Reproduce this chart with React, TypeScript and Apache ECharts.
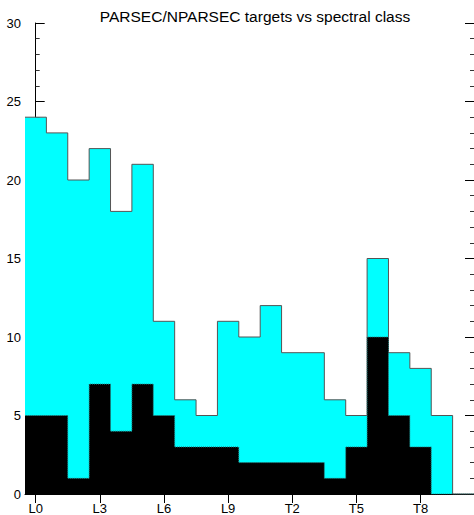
import React, { useEffect, useRef } from "react";
import * as echarts from "echarts";

const classes = [
  "L0", "L1", "L2", "L3", "L4", "L5", "L6", "L7", "L8", "L9",
  "T0", "T1", "T2", "T3", "T4", "T5", "T6", "T7", "T8", "T9", "",
];
// all targets (cyan)
const totalCounts = [24, 23, 20, 22, 18, 21, 11, 6, 5, 11, 10, 12, 9, 9, 6, 5, 15, 9, 8, 5, 0];
// PARSEC subset (black)
const parsecCounts = [5, 5, 1, 7, 4, 7, 5, 3, 3, 3, 2, 2, 2, 2, 1, 3, 10, 5, 3, 0, 0];
const yTicks = [0, 5, 10, 15, 20, 25, 30];

function stepEdges(vals: number[]): number[][] {
  const pts: number[][] = [];
  vals.forEach((v, i) => {
    pts.push([i - 0.5, v]);
    pts.push([i + 0.5, v]);
  });
  return pts;
}

export default function App() {
  const ref = useRef<HTMLDivElement>(null);
  useEffect(() => {
    if (!ref.current) return;
    const chart = echarts.init(ref.current, null, { renderer: "svg" });
    const font = "Liberation Sans";
    const yAxisBase = {
      type: "value",
      min: yTicks[0],
      max: yTicks[yTicks.length - 1],
      interval: 5,
      splitLine: { show: false },
      axisLine: { show: true, lineStyle: { color: "#000", width: 1 } },
      axisTick: { show: true, inside: true, length: 9, lineStyle: { color: "#000" } },
      minorTick: { show: true, splitNumber: 5, length: 4, lineStyle: { color: "#333" } },
    };
    chart.setOption({
      animation: false,
      backgroundColor: "#fff",
      textStyle: { fontFamily: font },
      title: {
        text: "PARSEC/NPARSEC targets vs spectral class",
        left: 250,
        textAlign: "center",
        top: 3,
        textStyle: { fontFamily: font, fontSize: 15.5, fontWeight: "normal", color: "#000" },
      },
      grid: { left: 25, top: 23, width: 450, height: 472 },
      xAxis: [
        {
          type: "category",
          data: classes,
          position: "bottom",
          boundaryGap: true,
          axisLine: { show: false },
          axisTick: { show: false },
          axisLabel: { interval: 2, color: "#000", fontSize: 13, fontFamily: font, margin: 8 },
          splitLine: { show: false },
        },
        {
          type: "category",
          data: classes,
          position: "top",
          boundaryGap: true,
          axisLine: { show: true, lineStyle: { color: "#000", width: 1 } },
          axisTick: { show: true, inside: true, length: 9, interval: 2, alignWithLabel: true, lineStyle: { color: "#000" } },
          axisLabel: { show: false, interval: 2 },
          splitLine: { show: false },
        },
        {
          type: "value",
          min: -0.5,
          max: classes.length - 0.5,
          show: false,
        },
      ],
      yAxis: [
        {
          ...yAxisBase,
          position: "left",
          axisLabel: { color: "#000", fontSize: 13, fontFamily: font, margin: 4 },
        },
        {
          ...yAxisBase,
          position: "right",
          axisLabel: { show: false },
        },
      ],
      series: [
        {
          type: "line",
          name: "all",
          xAxisIndex: 2,
          yAxisIndex: 0,
          data: stepEdges(totalCounts),
          symbol: "none",
          lineStyle: { color: "#555", width: 1 },
          areaStyle: { color: "#00ffff", opacity: 1, origin: "start" },
          z: 1,
        },
        {
          type: "line",
          name: "parsec",
          xAxisIndex: 2,
          yAxisIndex: 0,
          data: stepEdges(parsecCounts),
          symbol: "none",
          lineStyle: { color: "#2a8080", width: 1, type: "dotted" },
          areaStyle: { color: "#000", opacity: 1, origin: "start" },
          z: 3,
        },
      ],
    });
    return () => chart.dispose();
  }, []);
  return (
    <div
      ref={ref}
      style={{ position: "fixed", left: 0, top: 0, width: 474, height: 515, background: "#fff" }}
    />
  );
}
